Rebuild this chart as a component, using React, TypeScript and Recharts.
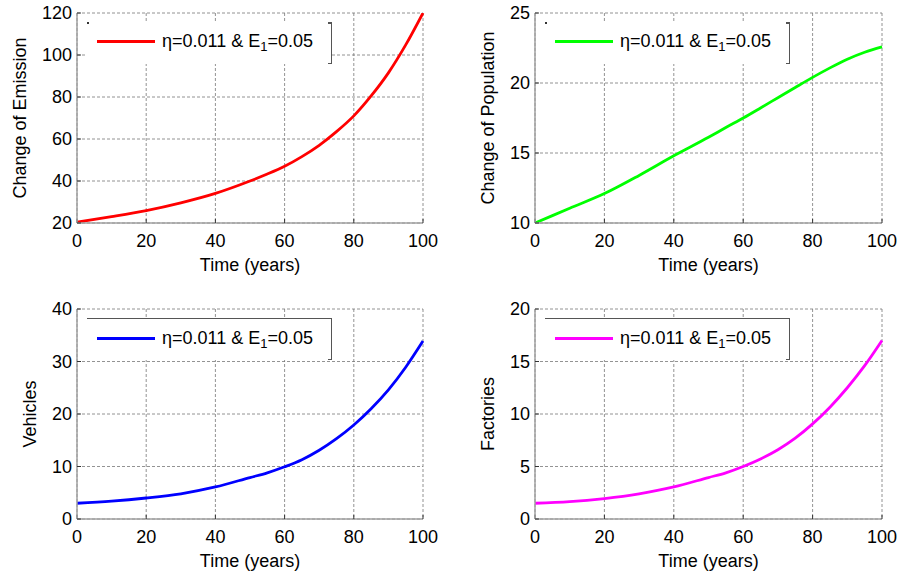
import React from "react";
import { LineChart, Line, XAxis, YAxis, CartesianGrid, Label } from "recharts";

const TIME = [0, 10, 20, 30, 40, 50, 55, 60, 65, 70, 75, 80, 85, 90, 95, 100];
const EMISSION = [20.4, 23, 25.9, 29.6, 34.1, 40, 43.3, 47, 51.6, 57, 63.5, 71, 80.5, 91.5, 104.8, 120];
const POPULATION = [10, 11.05, 12.1, 13.4, 14.8, 16.12, 16.82, 17.5, 18.22, 18.95, 19.68, 20.4, 21.08, 21.7, 22.2, 22.58];
const VEHICLES = [3, 3.4, 4, 4.8, 6.1, 7.9, 8.8, 9.95, 11.3, 13.1, 15.3, 17.9, 21, 24.6, 28.9, 33.9];
const FACTORIES = [1.5, 1.65, 1.95, 2.4, 3.05, 3.95, 4.4, 5, 5.72, 6.6, 7.7, 9.06, 10.65, 12.5, 14.6, 17];

const X_TICKS = [0, 20, 40, 60, 80, 100];
const EMISSION_TICKS = [20, 40, 60, 80, 100, 120];
const POPULATION_TICKS = [10, 15, 20, 25];
const VEHICLES_TICKS = [0, 10, 20, 30, 40];
const FACTORIES_TICKS = [0, 5, 10, 15, 20];

const LEGEND_PREFIX = "η=0.011 & E";
const LEGEND_SUB = "1";
const LEGEND_SUFFIX = "=0.05";
const X_TITLE = "Time (years)";

const FONT = "'Liberation Sans', Arial, sans-serif";
const AXIS_GRAY = "#a0a0a0";

type PanelProps = {
  left: number;
  top: number;
  width: number;
  rightMargin: number;
  values: number[];
  color: string;
  domain: [number, number];
  ticks: number[];
  yTitle: string;
  yTitleX: number;
  boxTop: boolean;
};

function Panel(p: PanelProps) {
  const data = TIME.map((t, i) => ({ t, v: p.values[i] }));
  return (
    <div style={{ position: "absolute", left: p.left, top: p.top, width: p.width, height: 288 }}>
      <LineChart
        width={p.width}
        height={288}
        data={data}
        margin={{ top: 13, right: p.rightMargin, bottom: 15, left: 0 }}
      >
        <CartesianGrid stroke="#777" strokeDasharray="3 2" strokeWidth={0.8} />
        <XAxis
          dataKey="t"
          type="number"
          domain={[0, 100]}
          ticks={X_TICKS}
          height={50}
          tickSize={-4}
          tickMargin={15}
          tickLine={{ stroke: "#333" }}
          axisLine={{ stroke: AXIS_GRAY, strokeWidth: 1.5 }}
          tick={{ fill: "#000", fontSize: 18, fontFamily: FONT }}
        >
          <Label
            content={({ viewBox }: any) => (
              <text
                x={viewBox.x + viewBox.width / 2}
                y={viewBox.y + 48}
                textAnchor="middle"
                fontSize={18}
                fontFamily={FONT}
                fill="#000"
              >
                {X_TITLE}
              </text>
            )}
          />
        </XAxis>
        <XAxis
          xAxisId="top"
          orientation="top"
          type="number"
          domain={[0, 100]}
          ticks={X_TICKS}
          height={0}
          tick={false}
          tickSize={-4}
          tickLine={{ stroke: "#333" }}
          axisLine={false}
          allowDataOverflow
        />
        <YAxis
          type="number"
          domain={p.domain}
          ticks={p.ticks}
          width={77}
          tickSize={-4}
          tickMargin={9}
          tickLine={{ stroke: "#333" }}
          allowDataOverflow
          axisLine={{ stroke: AXIS_GRAY, strokeWidth: 1.5 }}
          tick={{ fill: "#000", fontSize: 18, fontFamily: FONT }}
        >
          <Label
            content={({ viewBox }: any) => {
              const cy = viewBox.y + viewBox.height / 2;
              const cx = p.yTitleX;
              return (
                <text
                  x={cx}
                  y={cy}
                  transform={`rotate(-90 ${cx} ${cy})`}
                  textAnchor="middle"
                  dominantBaseline="central"
                  fontSize={18}
                  fontFamily={FONT}
                  fill="#000"
                >
                  {p.yTitle}
                </text>
              );
            }}
          />
        </YAxis>
        <YAxis
          yAxisId="right"
          orientation="right"
          type="number"
          domain={p.domain}
          ticks={p.ticks}
          width={0}
          tick={false}
          tickSize={-4}
          tickLine={{ stroke: "#333" }}
          axisLine={{ stroke: AXIS_GRAY, strokeWidth: 1.5 }}
          allowDataOverflow
        />
        <Line
          type="monotone"
          dataKey="v"
          stroke={p.color}
          strokeWidth={2.8}
          dot={false}
          isAnimationActive={false}
        />
      </LineChart>
      <div
        style={{
          position: "absolute",
          left: 87,
          top: 22,
          width: 245,
          height: 42,
          background: "#fff",
          borderRight: "1.5px solid #555",
          borderTop: p.boxTop ? "1.5px solid #555" : "none",
          boxSizing: "border-box",
          fontFamily: FONT,
          fontSize: 18,
          color: "#000",
        }}
      >
        {!p.boxTop && (
          <>
            <div style={{ position: "absolute", left: 0, top: 0, width: 2, height: 2, background: "#333" }} />
            <div style={{ position: "absolute", right: 0, top: 0, width: 3, height: 1.5, background: "#555" }} />
          </>
        )}
        <div style={{ position: "absolute", right: 0, bottom: 0, width: 3, height: 1.5, background: "#555" }} />
        <div
          style={{
            position: "absolute",
            left: 10,
            top: 18,
            width: 58,
            height: 3,
            background: p.color,
          }}
        />
        <div style={{ position: "absolute", left: 75, top: 8, whiteSpace: "nowrap", lineHeight: "22px" }}>
          {LEGEND_PREFIX}
          <sub style={{ fontSize: 13, verticalAlign: "-4px" }}>{LEGEND_SUB}</sub>
          {LEGEND_SUFFIX}
        </div>
      </div>
    </div>
  );
}

export default function App() {
  return (
    <div style={{ position: "absolute", left: 0, top: 0, width: 901, height: 577, background: "#fff" }}>
      <Panel
        left={0}
        top={0}
        width={450}
        rightMargin={27}
        values={EMISSION}
        color="#ff0000"
        domain={[20, 120]}
        ticks={EMISSION_TICKS}
        yTitle="Change of Emission"
        yTitleX={20}
        boxTop={false}
      />
      <Panel
        left={458}
        top={0}
        width={440}
        rightMargin={16}
        values={POPULATION}
        color="#00ff00"
        domain={[10, 25]}
        ticks={POPULATION_TICKS}
        yTitle="Change of Population"
        yTitleX={30}
        boxTop={false}
      />
      <Panel
        left={0}
        top={296}
        width={450}
        rightMargin={27}
        values={VEHICLES}
        color="#0000ff"
        domain={[0, 40]}
        ticks={VEHICLES_TICKS}
        yTitle="Vehicles"
        yTitleX={30}
        boxTop={true}
      />
      <Panel
        left={458}
        top={296}
        width={440}
        rightMargin={16}
        values={FACTORIES}
        color="#ff00ff"
        domain={[0, 20]}
        ticks={FACTORIES_TICKS}
        yTitle="Factories"
        yTitleX={30}
        boxTop={true}
      />
    </div>
  );
}
